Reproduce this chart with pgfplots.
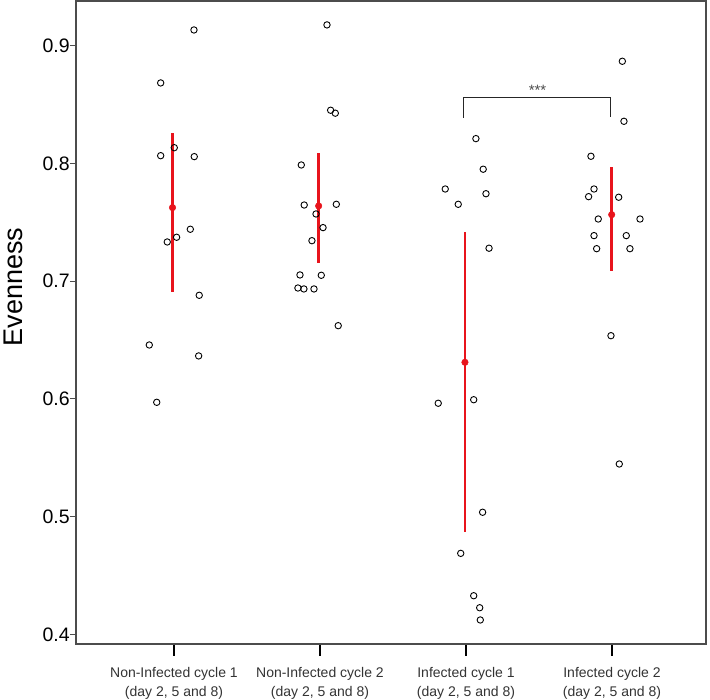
\documentclass[border=0pt]{standalone}
\usepackage{pgfplots}
\pgfplotsset{compat=1.18}
\usepackage{fontspec}
\setmainfont{Liberation Sans}
\definecolor{myred}{RGB}{232,20,28}
\begin{document}
\begin{tikzpicture}
\begin{axis}[
  scale only axis, width=630pt, height=643pt,
  xmin=0.329, xmax=4.644, ymin=0.3918, ymax=0.938,
  axis line style={black!70, line width=1.2pt},
  tick align=outside, xtick pos=bottom, ytick pos=left,
  xtick={1,2,3,4},
  xticklabels={{Non-Infected cycle 1\\(day 2, 5 and 8)},{Non-Infected cycle 2\\(day 2, 5 and 8)},{Infected cycle 1\\(day 2, 5 and 8)},{Infected cycle 2\\(day 2, 5 and 8)}},
  xticklabel style={align=center, font=\fontsize{14}{18.4}\selectfont, text=black!80, yshift=-16pt},
  xtick style={black, line width=1.2pt, /pgfplots/major tick length=12pt},
  ytick={0.4,0.5,0.6,0.7,0.8,0.9},
  yticklabels={0.4,0.5,0.6,0.7,0.8,0.9},
  yticklabel style={font=\fontsize{19.5}{22}\selectfont, xshift=1.5pt},
  ytick style={black!70, line width=1pt, /pgfplots/major tick length=6pt},
  ylabel={Evenness},
  ylabel style={font=\fontsize{27}{30}\selectfont, at={([xshift=-63pt]rel axis cs:0,0.555)}, anchor=center},
  clip=false,
]
\addplot[only marks, mark=*, mark size=3.3pt, color=myred,
  error bars/.cd, y dir=both, y explicit, error mark=none,
  error bar style={line width=2.8pt, myred}]
  coordinates {
  (0.99,0.7625) += (0,0.0637) -= (0,0.0717)
  (1.991,0.7639) += (0,0.0448) -= (0,0.0487)
  (2.993,0.6311) += (0,0.1104) -= (0,0.1439)
  (3.998,0.7565) += (0,0.0408) -= (0,0.0481)
  };
\addplot[only marks, mark=o, mark size=3.2pt, black, mark options={line width=0.9pt}]
  coordinates {
  (1.137,0.9134) (0.909,0.8684) (0.909,0.8066) (1.002,0.8134) (1.139,0.8058) (1.112,0.7441)
  (1.018,0.7373) (0.954,0.7333) (1.173,0.6880) (0.831,0.6458) (1.169,0.6365) (0.882,0.5971)
  (2.048,0.9177) (2.073,0.8452) (2.105,0.8427) (1.872,0.7987) (1.892,0.7647) (2.112,0.7653)
  (1.973,0.7571) (2.021,0.7455) (1.945,0.7344) (1.863,0.7053) (2.009,0.7050) (1.849,0.6942)
  (1.890,0.6934) (1.959,0.6934) (2.125,0.6622)
  (3.068,0.8211) (3.118,0.7951) (2.858,0.7783) (3.137,0.7743) (2.947,0.7653) (3.158,0.7280)
  (2.810,0.5963) (3.053,0.5993) (3.114,0.5037) (2.964,0.4688) (3.053,0.4328) (3.094,0.4226)
  (3.098,0.4122)
  (4.071,0.8868) (4.082,0.8358) (3.856,0.8061) (3.877,0.7783) (3.840,0.7718) (4.046,0.7713)
  (3.906,0.7528) (4.192,0.7528) (3.877,0.7387) (4.098,0.7387) (3.895,0.7276) (4.123,0.7276)
  (3.993,0.6537) (4.050,0.5447)
  };
\addplot[black!85, line width=1pt] coordinates {(2.986,0.8387) (2.986,0.8562) (3.993,0.8562) (3.993,0.8398)};
\node[anchor=base, font=\fontsize{15}{15}\selectfont, text=black!70, inner sep=0pt] at (axis cs:3.49,0.8575) {***};
\end{axis}
\pgfresetboundingbox
\path (current axis.south west) ++(-76pt,-56pt) coordinate (bl);
\path (current axis.north east) ++(4pt,1pt) coordinate (tr);
\useasboundingbox (bl) rectangle (tr);
\end{tikzpicture}
\end{document}
